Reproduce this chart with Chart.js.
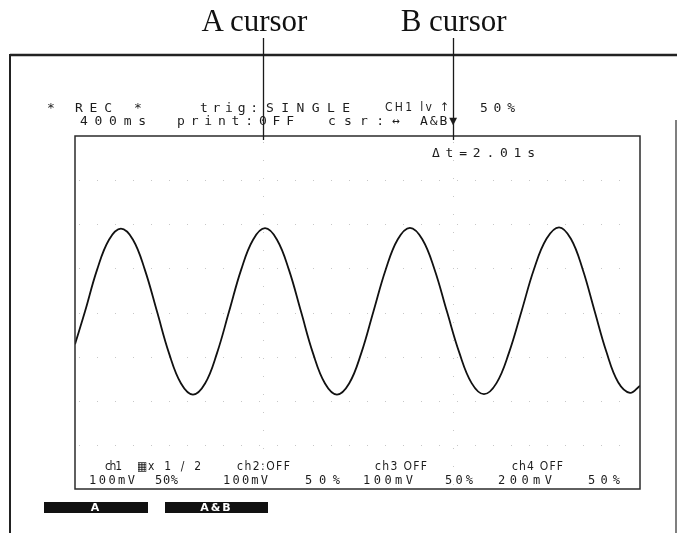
<!DOCTYPE html>
<html>
<head>
<meta charset="utf-8">
<script src="https://cdn.jsdelivr.net/npm/chart.js@4.4.1/dist/chart.umd.min.js"></script>
<style>
  html, body { margin: 0; padding: 0; background: #fff; }
  #wrap { position: relative; width: 677px; height: 533px; overflow: hidden; background: #fff; }
  #c { position: absolute; left: 0; top: 0; }
  .t { position: absolute; white-space: pre; color: #1c1c1c; }
  .btn { position: absolute; background: #111; color: #fff; font: bold 11px "DejaVu Sans", sans-serif; text-align: center; line-height: 11px; }
</style>
</head>
<body>
<div id="wrap">
  <canvas id="c" width="677" height="533"></canvas>
</div>
<script>
// ---- data read from the recording ----
const timeSec = [0, 0.106, 0.233, 0.361, 0.488, 0.616, 0.743, 0.871, 0.998, 1.126, 1.253,
  1.381, 1.508, 1.636, 1.763, 1.891, 2.018, 2.145, 2.273, 2.400, 2.527, 2.655, 2.782,
  2.911, 3.040, 3.170, 3.299, 3.428, 3.557, 3.688, 3.819, 3.950, 4.081, 4.212, 4.343,
  4.476, 4.609, 4.742, 4.874, 5.007, 5.140, 5.266, 5.391, 5.517, 5.643, 5.768, 5.894, 6.0];
const ch1Div = [-0.72, 0.02, 0.96, 1.65, 1.90, 1.65, 0.96, 0.02, -0.92, -1.61, -1.86,
  -1.61, -0.92, 0.02, 0.96, 1.65, 1.91, 1.65, 0.96, 0.02, -0.92, -1.61, -1.86,
  -1.61, -0.92, 0.03, 0.97, 1.66, 1.92, 1.66, 0.97, 0.02, -0.91, -1.60, -1.85,
  -1.60, -0.91, 0.03, 0.98, 1.67, 1.93, 1.67, 0.98, 0.04, -0.89, -1.58, -1.82, -1.66];
const cursorTimes = [2.00, 4.01];
const cursorNames = ["A cursor", "B cursor"];
const headerLine1 = ["*", "REC", "*", "trig:", "SINGLE", "CH1 lv \u2191", "50%"];
const headerLine2 = ["400ms", "print:0FF", "csr:\u2194", "A&B\u25BC"];
const deltaLabel = "\u0394t=2.01s";
const chanLine1 = ["ch1", "\u25A6", "x 1 / 2", "ch2:OFF", "ch3 OFF", "ch4 OFF"];
const chanLine2 = ["100mV", "50%", "100mV", "50%", "100mV", "50%", "200mV", "50%"];
const buttonLabels = ["A", "A&B"];

// ---- layout (positions only) ----
const MONO = '"DejaVu Sans Mono", monospace';
const NARROW = '"Liberation Sans Narrow", "DejaVu Sans Condensed", sans-serif';
const wrap = document.getElementById('wrap');
const mctx = document.createElement('canvas').getContext('2d');

function place(text, x0, x1, cy, size, family) {
  const s = document.createElement('span');
  s.className = 't';
  s.textContent = text;
  const font = size + 'px ' + family;
  s.style.font = font;
  s.style.lineHeight = size + 'px';
  mctx.font = font;
  const w = mctx.measureText(text).width;
  const n = [...text].length;
  let ls = 0;
  if (x1 != null && n > 1) ls = (x1 - x0 - w) / (n - 1);
  s.style.letterSpacing = ls + 'px';
  s.style.left = x0 + 'px';
  s.style.top = (cy - size * 0.48) + 'px';
  wrap.appendChild(s);
  return s;
}

const l1 = [[47,57],[75,112],[134,144],[200,258],[266,350],[385,449],[480,515]];
headerLine1.forEach((t,i)=>place(t, l1[i][0], l1[i][1], 107, i===5?12:13, i===5?NARROW:MONO));
const l2 = [[80,146],[177,294],[328,400],[420,457]];
headerLine2.forEach((t,i)=>place(t, l2[i][0], l2[i][1], 120, 13, MONO));
place(deltaLabel, 432, 535, 152, 13, MONO);
const r1 = [[105,122],[137,145],[148,201],[237,290],[375,427],[512,563]];
chanLine1.forEach((t,i)=>place(t, r1[i][0], r1[i][1], 466, 12, NARROW));
const r2 = [[89,135],[155,178],[223,268],[305,340],[363,413],[445,473],[498,552],[588,620]];
chanLine2.forEach((t,i)=>place(t, r2[i][0], r2[i][1], 480, 12, MONO));

const b = [[44,148],[165,268]];
buttonLabels.forEach((t,i)=>{
  const d = document.createElement('div');
  d.className = 'btn';
  d.textContent = t;
  d.style.left = b[i][0] + 'px';
  d.style.width = (b[i][1]-b[i][0]) + 'px';
  d.style.top = '502px';
  d.style.height = '11px';
  d.style.letterSpacing = '2px';
  wrap.appendChild(d);
});

// ---- chart ----
const frame = {
  id: 'frame',
  afterDraw(chart) {
    const c = chart.ctx, a = chart.chartArea, xs = chart.scales.x, ys = chart.scales.y;
    c.save();
    // faint dotted grid
    c.strokeStyle = 'rgba(0,0,0,0.22)';
    c.lineWidth = 1;
    c.setLineDash([1, 17]);
    for (let v = -3; v <= 3; v++) {
      const y = Math.round(ys.getPixelForValue(v)) + 0.5;
      c.beginPath(); c.moveTo(a.left + 4, y); c.lineTo(a.right - 4, y); c.stroke();
    }
    cursorTimes.forEach(t => {
      const x = Math.round(xs.getPixelForValue(t)) + 0.5;
      c.beginPath(); c.moveTo(x, a.top + 6); c.lineTo(x, a.bottom - 4); c.stroke();
    });
    c.setLineDash([]);
    // plot frame
    c.strokeStyle = '#2b2b2b';
    c.lineWidth = 1.5;
    c.strokeRect(a.left, a.top, a.right - a.left, a.bottom - a.top);
    // outer paper frame
    c.strokeStyle = '#222';
    c.lineWidth = 2.5;
    c.beginPath(); c.moveTo(10, 55); c.lineTo(677, 55); c.stroke();
    c.lineWidth = 2;
    c.beginPath(); c.moveTo(10, 54); c.lineTo(10, 533); c.stroke();
    c.strokeStyle = '#555';
    c.lineWidth = 1.5;
    c.beginPath(); c.moveTo(676, 120); c.lineTo(676, 533); c.stroke();
    // cursor lines
    c.strokeStyle = '#1a1a1a';
    c.lineWidth = 1.3;
    cursorTimes.forEach(t => {
      const x = Math.round(xs.getPixelForValue(t)) + 0.5;
      c.beginPath(); c.moveTo(x, 38); c.lineTo(x, a.top + 4); c.stroke();
    });
    c.restore();
  }
};

const chart = new Chart(document.getElementById('c'), {
  type: 'line',
  data: {
    datasets: [{
      data: timeSec.map((t, i) => ({ x: t, y: ch1Div[i] })),
      borderColor: '#111',
      borderWidth: 1.8,
      pointRadius: 0,
      tension: 0.4,
      fill: false
    }]
  },
  options: {
    responsive: false,
    animation: false,
    devicePixelRatio: 1,
    events: [],
    layout: { padding: { left: 75, top: 136, right: 37, bottom: 44 } },
    plugins: { legend: { display: false }, tooltip: { enabled: false } },
    scales: {
      x: { type: 'linear', min: 0, max: 6, display: false },
      y: { type: 'linear', min: -4, max: 4, display: false }
    }
  },
  plugins: [frame]
});

// cursor captions placed over their cursor lines
const xs = chart.scales.x;
const capOffsets = [-8, 1];
cursorNames.forEach((name, i) => {
  const s = document.createElement('span');
  s.className = 't';
  s.textContent = name;
  s.style.font = '31px "Liberation Serif", "Times New Roman", serif';
  s.style.lineHeight = '31px';
  s.style.color = '#111';
  s.style.top = '5px';
  mctx.font = '31px "Liberation Serif"';
  const w = mctx.measureText(name).width;
  s.style.left = (xs.getPixelForValue(cursorTimes[i]) + capOffsets[i] - w / 2) + 'px';
  wrap.appendChild(s);
});
</script>
</body>
</html>
